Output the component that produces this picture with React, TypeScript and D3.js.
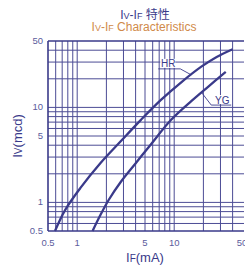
import React from "react";
import * as d3 from "d3";

// HR curve (IF in mA, Iv in mcd)
const hrIF = [0.59, 0.75, 1.08, 1.74, 2.81, 4.54, 7.3, 11.9, 19.2, 27.4, 40];
const hrIv = [0.5, 0.83, 1.42, 2.6, 4.4, 7.4, 12, 18.5, 27, 34, 41];

// YG curve
const ygIF = [1.44, 1.74, 2.11, 2.81, 4.03, 5.77, 9.3, 15.1, 21.6, 34];
const ygIv = [0.5, 0.74, 1.06, 1.64, 2.6, 4.1, 7.4, 11.7, 16, 23.6];

const xTickLabels = ["0.5", "1", "5", "10", "50"];
const yTickLabels = ["0.5", "1", "5", "10", "50"];

const NAVY = "#3a3a8a";
const ORANGE = "#d08a4a";
const TICK = "#5c5c9c";
const FONT = "'Liberation Sans', Arial, 'Noto Sans CJK SC', sans-serif";

const W = 245;
const H = 267;

export default function App() {
  const x = d3.scaleLog().domain([0.5, 50]).range([48, 242]);
  const y = d3.scaleLog().domain([0.5, 50]).range([231, 41]);

  const line = d3
    .line<[number, number]>()
    .x((d) => x(d[0]))
    .y((d) => y(d[1]))
    .curve(d3.curveCatmullRom.alpha(0.5));

  const hr = hrIF.map((v, i) => [v, hrIv[i]] as [number, number]);
  const yg = ygIF.map((v, i) => [v, ygIv[i]] as [number, number]);

  const gridX = x.ticks().filter((t) => t > 0.5 && t < 50);
  const gridY = y.ticks().filter((t) => t > 0.5 && t < 50);

  // label leaders anchored on the curves
  const hrA = [x(15), y(22)];
  const ygA = [x(19), y(14.5)];

  return (
    <div style={{ position: "fixed", left: 0, top: 0 }}>
      <svg width={W} height={H} style={{ display: "block", background: "#fff" }} fontFamily={FONT}>
        <text x={145} y={18.5} textAnchor="middle" fontSize={12} fill={NAVY}>
          I<tspan fontSize={9}>V</tspan>-I<tspan fontSize={9}>F</tspan> 特性
        </text>
        <text x={144} y={31} textAnchor="middle" fontSize={12} fill={ORANGE}>
          I<tspan fontSize={9}>V</tspan>-I<tspan fontSize={9}>F</tspan> Characteristics
        </text>

        <g stroke={NAVY} strokeWidth={1} opacity={0.9}>
          {gridX.map((t) => (
            <line key={"gx" + t} x1={x(t)} x2={x(t)} y1={y(50)} y2={y(0.5)} />
          ))}
          {gridY.map((t) => (
            <line key={"gy" + t} x1={x(0.5)} x2={244} y1={y(t)} y2={y(t)} />
          ))}
        </g>
        <g stroke={NAVY} strokeWidth={1.6}>
          <line x1={x(0.5)} x2={x(0.5)} y1={y(50)} y2={y(0.5)} />
          <line x1={x(0.5)} x2={244} y1={y(50)} y2={y(50)} />
          <line x1={x(0.5)} x2={244} y1={y(0.5)} y2={y(0.5)} />
        </g>

        <path d={line(hr) ?? ""} fill="none" stroke={NAVY} strokeWidth={2.3} />
        <path d={line(yg) ?? ""} fill="none" stroke={NAVY} strokeWidth={2.3} />

        <polyline
          points={`${hrA[0]},${hrA[1]} ${hrA[0] - 11},${hrA[1] - 6} ${hrA[0] - 33},${hrA[1] - 6}`}
          fill="none"
          stroke={NAVY}
          strokeWidth={0.9}
        />
        <rect x={hrA[0] - 31} y={hrA[1] - 16} width={15} height={9} fill="#fff" />
        <text x={hrA[0] - 23} y={hrA[1] - 7.5} textAnchor="middle" fontSize={10} fill={NAVY}>
          HR
        </text>

        <polyline
          points={`${ygA[0]},${ygA[1]} ${ygA[0] + 10},${ygA[1] + 13} ${ygA[0] + 30},${ygA[1] + 13}`}
          fill="none"
          stroke={NAVY}
          strokeWidth={0.9}
        />
        <rect x={ygA[0] + 13} y={ygA[1] + 3} width={16} height={9} fill="#fff" />
        <text x={ygA[0] + 21} y={ygA[1] + 11.5} textAnchor="middle" fontSize={10} fill={NAVY}>
          YG
        </text>

        {xTickLabels.map((t) => (
          <text key={"xl" + t} x={x(+t)} y={246} textAnchor="middle" fontSize={9.5} fill={TICK}>
            {t}
          </text>
        ))}
        {yTickLabels.map((t) => (
          <text key={"yl" + t} x={43} y={y(+t) + 3} textAnchor="end" fontSize={9.5} fill={TICK}>
            {t}
          </text>
        ))}

        <text x={145} y={262} textAnchor="middle" fontSize={13} fill={NAVY}>
          I<tspan fontSize={10}>F</tspan>(mA)
        </text>
        <text transform="translate(22,136) rotate(-90)" textAnchor="middle" fontSize={13} fill={NAVY}>
          I<tspan fontSize={10}>V</tspan>(mcd)
        </text>
      </svg>
    </div>
  );
}
